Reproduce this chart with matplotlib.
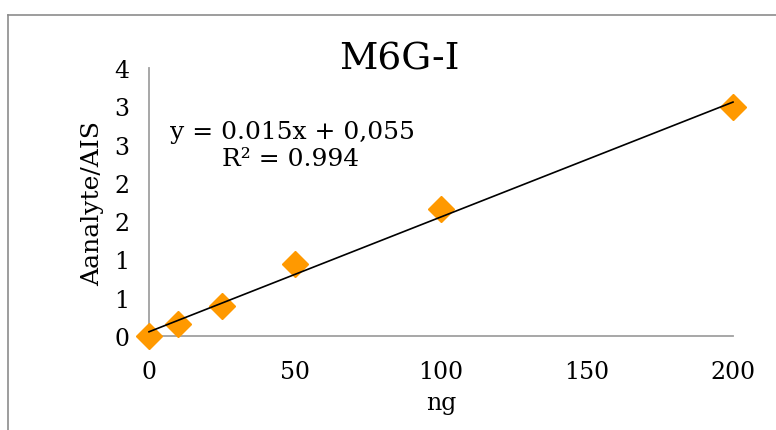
import matplotlib
matplotlib.use("Agg")
import matplotlib.pyplot as plt
from matplotlib.lines import Line2D
import numpy as np

# calibration data
amount_ng = [0, 10, 25, 50, 100, 200]
ratio = [0.0, 0.16, 0.39, 0.94, 1.66, 2.99]
slope, intercept = 0.015, 0.055
y_ticks = [0, 0.5, 1, 1.5, 2, 2.5, 3, 3.5]
y_tick_labels = ["0", "1", "1", "2", "2", "3", "3", "4"]
x_ticks = [0, 50, 100, 150, 200]

plt.rcParams["font.family"] = "DejaVu Serif"

fig = plt.figure(figsize=(7.76, 4.31), dpi=100)
ax = fig.add_axes([149 / 776, 94 / 431, 584 / 776, 268 / 431])

ax.plot(amount_ng, ratio, linestyle="none", marker="D", markersize=13.5,
        color="#FF9900", clip_on=False, zorder=3)
fit_x = np.array([amount_ng[0], amount_ng[-1]])
ax.plot(fit_x, slope * fit_x + intercept, color="black", lw=1.2,
        clip_on=False, zorder=4)

ax.set_xlim(0, 200)
ax.set_ylim(0, 3.5)
ax.set_xticks(x_ticks)
ax.set_yticks(y_ticks)
ax.set_yticklabels(y_tick_labels)
ax.tick_params(length=0, labelsize=17)
ax.tick_params(axis="x", pad=17)
ax.tick_params(axis="y", pad=14)
for side in ["top", "right"]:
    ax.spines[side].set_visible(False)
for side in ["left", "bottom"]:
    ax.spines[side].set_color("#a0a0a0")
    ax.spines[side].set_linewidth(1.3)

# axis titles placed in figure pixels
fig.text(441 / 776, 1 - 404 / 431, "ng", fontsize=17, ha="center", va="center")
fig.text(93 / 776, 1 - 203 / 431, "Aanalyte/AIS", fontsize=18, rotation=90,
         ha="center", va="center")

fig.text(399 / 776, 1 - 60 / 431, "M6G-I", fontsize=27, ha="center", va="center")
fig.text(292 / 776, 1 - 132 / 431, "y = 0.015x + 0,055", fontsize=18,
         ha="center", va="center")
fig.text(291 / 776, 1 - 160 / 431, "R² = 0.994", fontsize=18,
         ha="center", va="center")

# outer chart border (only top and left visible in the crop)
fig.add_artist(Line2D([8 / 776, 1], [1 - 16 / 431, 1 - 16 / 431],
                      color="#8c8c8c", lw=1.2))
fig.add_artist(Line2D([8 / 776, 8 / 776], [0, 1 - 16 / 431],
                      color="#8c8c8c", lw=1.2))

fig.savefig("out.png", dpi=100)
